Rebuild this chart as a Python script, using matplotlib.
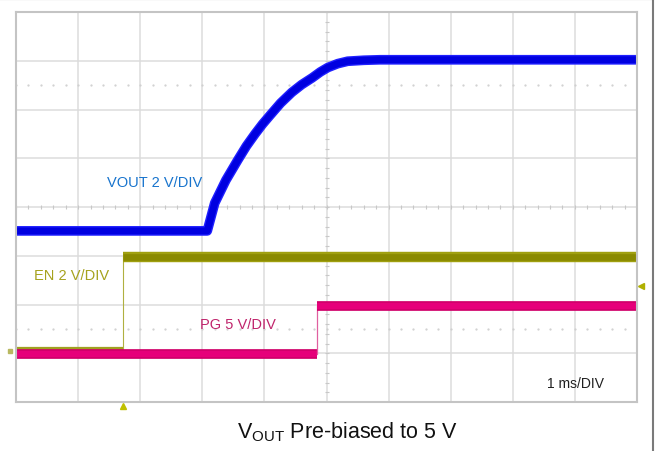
import numpy as np
import matplotlib
matplotlib.use("Agg")
import matplotlib.pyplot as plt
from matplotlib.lines import Line2D

plt.rcParams['font.family'] = ['Liberation Sans', 'DejaVu Sans']
plt.rcParams['mathtext.fontset'] = 'custom'
plt.rcParams['mathtext.rm'] = 'Liberation Sans'

# time in ms (1 ms/DIV), levels in screen divisions (0 = bottom of screen)
vout_t = [0.0, 3.08, 3.20, 3.38, 3.57, 3.71, 3.85, 3.97, 4.09, 4.26, 4.44,
          4.60, 4.77, 4.90, 5.02, 5.18, 5.34, 5.60, 5.86, 10.0]
vout_d = [3.51, 3.51, 4.08, 4.55, 4.96, 5.25, 5.50, 5.70, 5.88, 6.13, 6.35,
          6.51, 6.65, 6.77, 6.86, 6.94, 6.99, 7.01, 7.02, 7.02]

en_step = 1.72
en_low = 1.07
en_high = 2.97

pg_step = 4.84
pg_low = 0.98
pg_high = 1.97

blue = '#0000e0'
olive = '#8a8a00'
pink = '#e6007a'

fig = plt.figure(figsize=(6.6, 4.52), dpi=100)
ax = fig.add_axes([16 / 660, 1 - 403 / 452, 621 / 660, 390 / 452])
ax.set_xlim(0, 10)
ax.set_ylim(0, 8)
ax.set_xticks(range(11))
ax.set_yticks(range(9))
ax.tick_params(length=0, labelbottom=False, labelleft=False)
ax.grid(True, color='#dcdcdc', lw=1.1)
for s in ax.spines.values():
    s.set_color('#c4c4c4')
    s.set_linewidth(1.5)

# center cross ticks and dot rows
sub = np.arange(0, 10.01, 0.2)
ax.plot(sub, np.full(len(sub), 4), ls='none', marker='|', ms=3, mew=0.8, color='#c8c8c8')
subv = np.arange(0, 8.01, 0.2)
ax.plot(np.full(len(subv), 5), subv, ls='none', marker='_', ms=3, mew=0.8, color='#c8c8c8')
for row in [1.5, 6.5]:
    ax.plot(sub, np.full(len(sub), row), ls='none', marker='.', ms=1.2, color='#cfcfcf')

# EN trace
ax.plot([0, en_step], [en_low, en_low], color='#a0a020', lw=4.5, solid_capstyle='butt')
ax.plot([en_step, en_step], [en_low, en_high], color='#b0b040', lw=0.8)
ax.plot([en_step, 10], [en_high, en_high], color='#a0a010', lw=7.5, solid_capstyle='butt')
ax.plot([en_step, 10], [en_high, en_high], color=olive, lw=4.8, solid_capstyle='butt')

# PG trace
ax.plot([0, pg_step], [pg_low, pg_low], color='#d0006a', lw=7, solid_capstyle='butt')
ax.plot([0, pg_step], [pg_low, pg_low], color=pink, lw=4.5, solid_capstyle='butt')
ax.plot([pg_step, pg_step], [pg_low, pg_high], color='#e060a0', lw=0.9)
ax.plot([pg_step, 10], [pg_high, pg_high], color='#d0006a', lw=7, solid_capstyle='butt')
ax.plot([pg_step, 10], [pg_high, pg_high], color=pink, lw=4.5, solid_capstyle='butt')

# VOUT trace
ax.plot(vout_t, vout_d, color='#2020ff', lw=7, solid_capstyle='butt', solid_joinstyle='round')
ax.plot(vout_t, vout_d, color=blue, lw=5, solid_capstyle='butt', solid_joinstyle='round')

# scope markers
ax.plot([10.07], [2.38], marker='<', ms=4, color='#b0b000', clip_on=False)
ax.plot([en_step], [-0.08], marker='^', ms=4, color='#c0c000', clip_on=False)
ax.plot([-0.1], [1.05], marker='s', ms=3, color='#b8b860', clip_on=False)

# labels
ax.text(1.465, 4.51, 'VOUT 2 V/DIV', color='#1874cd', fontsize=10.5, va='center')
ax.text(0.29, 2.6, 'EN 2 V/DIV', color='#a6a21e', fontsize=10.5, va='center')
ax.text(2.96, 1.6, 'PG 5 V/DIV', color='#c0246c', fontsize=10.5, va='center')
ax.text(8.55, 0.39, '1 ms/DIV', color='#202020', fontsize=10, va='center')

fig.text(0.527, 0.044, r'V$_{\mathrm{OUT}}$ Pre-biased to 5 V', fontsize=15.5,
         ha='center', va='center', color='#111111')

# outer frame
fig.add_artist(Line2D([0, 653 / 660], [0.999, 0.999], color='#7a7a7a', lw=1.5))
fig.add_artist(Line2D([653 / 660, 653 / 660], [0, 1], color='#7a7a7a', lw=1.5))

fig.savefig('out.png', dpi=100)
